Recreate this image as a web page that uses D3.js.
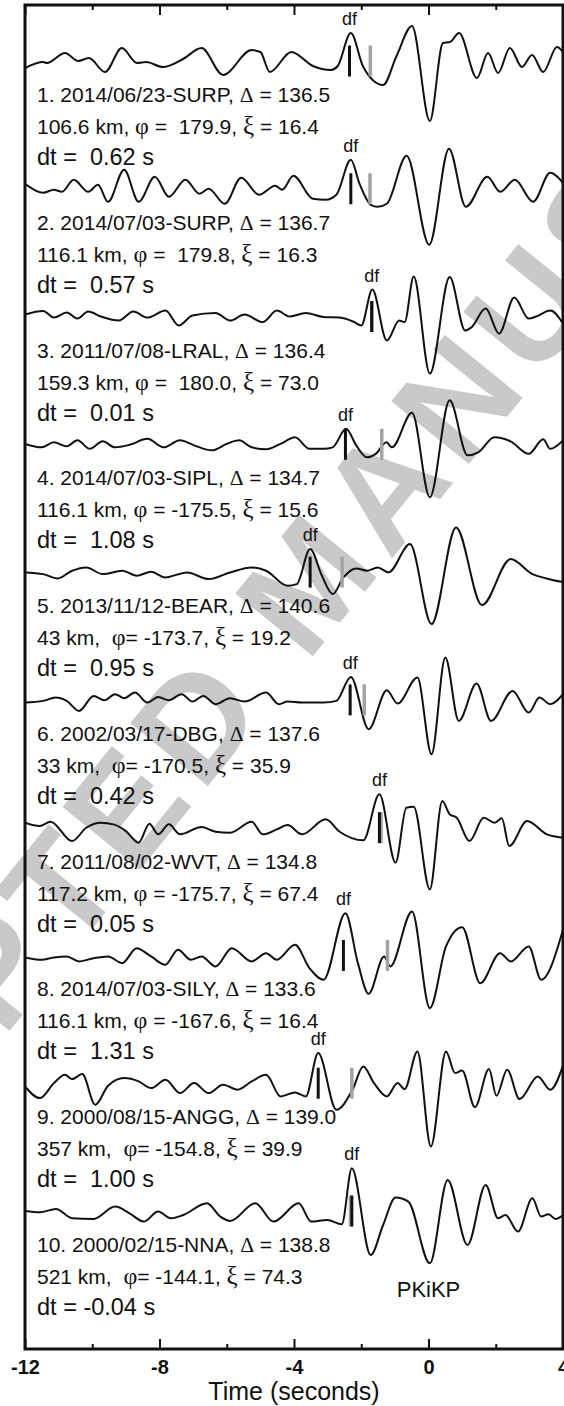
<!DOCTYPE html>
<html>
<head>
<meta charset="utf-8">
<script src="https://cdn.jsdelivr.net/npm/d3@7"></script>
<style>
  body { margin: 0; background: #fff; }
  svg { display: block; }
  text { white-space: pre; }
</style>
</head>
<body>
<svg id="chart" width="564" height="1406"></svg>
<script>
// ---- Event / station metadata (one entry per trace, top to bottom) ----
const traceIds = [1, 2, 3, 4, 5, 6, 7, 8, 9, 10];
const dates    = ["2014/06/23", "2014/07/03", "2011/07/08", "2014/07/03", "2013/11/12",
                  "2002/03/17", "2011/08/02", "2014/07/03", "2000/08/15", "2000/02/15"];
const stations = ["SURP", "SURP", "LRAL", "SIPL", "BEAR", "DBG", "WVT", "SILY", "ANGG", "NNA"];
const distances = [136.5, 136.7, 136.4, 134.7, 140.6, 137.6, 134.8, 133.6, 139.0, 138.8];
const depths    = [106.6, 116.1, 159.3, 116.1, 43, 33, 117.2, 116.1, 357, 521];
const phis      = [179.9, 179.8, 180.0, -175.5, -173.7, -170.5, -175.7, -167.6, -154.8, -144.1];
const xis       = [16.4, 16.3, 73.0, 15.6, 19.2, 35.9, 67.4, 16.4, 39.9, 74.3];
const dts       = [0.62, 0.57, 0.01, 1.08, 0.95, 0.42, 0.05, 1.31, 1.00, -0.04];
// picked PKIKP(df) onset time (s); the predicted arrival sits at dfTimes + dts
const dfTimes   = [-2.35, -2.31, -1.69, -2.47, -3.52, -2.33, -1.46, -2.53, -3.28, -2.28];

// ---- Axis ticks ----
const majorTicks = [-12, -8, -4, 0, 4];
const minorTicks = [-10, -6, -2, 2];

// ---- Waveforms: [time (s), amplitude] ----
const trace1 = [[-12.0,-7],[-11.46,-1],[-11.35,-2],[-10.81,8],[-10.42,0],[-10.1,3],[-9.62,-11],[-9.12,13],[-8.67,-2],[-8.4,-1],[-7.9,-6],[-7.3,2],[-6.75,13],[-6.11,-14],[-5.26,11],[-5.0,9],[-4.72,-11],[-4.08,9],[-3.44,-5],[-2.9,-9],[-2.7,-5],[-2.31,28],[-1.94,-6],[-1.35,-24],[-0.95,5],[-0.49,35],[0.04,-60],[0.43,18],[0.64,19],[0.91,28],[1.44,-17],[1.77,8],[2.07,-12],[2.42,13],[2.78,-6],[3.08,6],[3.41,-11],[3.82,14],[4.0,9]];
const trace2 = [[-12,5],[-11.46,-4],[-11.14,-1],[-10.9,-3],[-10.55,9],[-10.12,-3],[-9.83,4],[-9.53,-13],[-9.05,19],[-8.62,-13],[-8.14,12],[-7.72,-8],[-7.23,9],[-6.81,-5],[-6.54,0],[-6.06,-15],[-5.57,11],[-5.04,-6],[-4.56,3],[-4.35,-1],[-4.02,13],[-3.44,-10],[-3.06,-11],[-2.74,-6],[-2.31,29],[-2.05,5],[-1.72,-16],[-1.51,-18],[-1.24,-15],[-0.65,33],[0.02,-56],[0.61,40],[1.11,-18],[1.75,12],[2.13,-3],[2.57,9],[3.11,-13],[3.62,16],[4.0,6]];
const trace3 = [[-12,2],[-11.46,5.5],[-11.14,-1],[-10.76,4],[-10.44,-2],[-10.12,5],[-9.74,0],[-9.21,-4],[-8.78,5],[-8.36,-1],[-7.82,6],[-7.43,-9],[-7.02,1],[-6.33,3.5],[-5.9,-4],[-5.47,2],[-4.93,-5.5],[-4.51,6],[-4.13,0],[-3.65,3.5],[-3.12,-0.5],[-2.64,-1],[-2.21,-5.5],[-2.0,-9],[-1.67,27],[-1.24,-24],[-0.87,-4],[-0.71,-5.5],[-0.44,40],[0.04,-57],[0.63,39.5],[1.09,-14],[1.27,-11],[1.7,8],[2.1,-17],[2.55,19],[2.98,-2],[3.2,0],[3.62,6],[4.0,-7]];
const trace4 = [[-12,0.5],[-11.51,-3],[-11.14,2],[-10.76,-2],[-10.44,4],[-10.07,-4.5],[-9.69,3],[-9.32,-3],[-8.89,-0.5],[-8.36,5.5],[-7.88,-3],[-7.39,4],[-6.97,-1],[-6.44,-6],[-6.0,0.5],[-5.63,4],[-5.26,-3],[-4.83,-5],[-4.4,0.5],[-3.97,7],[-3.54,-4.5],[-3.12,-4.5],[-2.85,-3],[-2.45,15.5],[-2.15,-1],[-1.83,-13],[-1.57,-9.5],[-1.25,2],[-1.09,-3],[-0.49,31.5],[0.04,-53],[0.63,44],[1.16,-11],[1.48,-8],[1.96,7],[2.44,3],[2.98,-9.5],[3.41,5],[3.62,-4.5],[4.0,4]];
const trace5 = [[-12,-0.3],[-11.46,-2],[-11.03,-6.3],[-10.6,1.4],[-10.18,4.7],[-9.69,-2],[-9.11,1.4],[-8.68,-3.6],[-8.25,0.4],[-7.83,-5.3],[-7.18,-0.3],[-6.54,-7],[-5.9,-0.3],[-5.26,4.7],[-4.83,1.4],[-4.19,-13.6],[-3.92,-12],[-3.52,23],[-3.17,-3.6],[-2.85,-22],[-2.53,-5.3],[-2.15,3.7],[-1.83,1.4],[-1.51,4.7],[-1.19,-0.3],[-0.55,28],[0.09,-52],[0.82,44.7],[1.59,-33],[2.44,13],[3.09,-2],[3.51,-6.3],[4.0,-10]];
const trace6 = [[-12,-2.7],[-11.46,-1],[-11.09,2.3],[-10.76,-1],[-10.39,-11],[-9.96,4],[-9.64,-0.3],[-9.32,5.7],[-9.05,1.7],[-8.73,7.3],[-8.36,-2.7],[-8.04,3],[-7.72,-0.3],[-7.34,5.7],[-7.02,-1.7],[-6.7,4],[-6.33,-4.3],[-5.9,1.7],[-5.47,-1.7],[-4.83,7.3],[-4.45,-4.3],[-4.19,-1.7],[-3.76,-2.7],[-3.12,-2.7],[-2.74,-1],[-2.31,23],[-1.78,-29.3],[-1.24,9.7],[-0.92,-3.7],[-0.33,22.3],[0.09,-54.3],[0.5,42.3],[0.9,-21],[1.43,16.3],[1.86,-21],[2.5,9],[2.98,-12.7],[3.3,2.3],[3.62,-4.3],[4.0,5.7]];
const trace7 = [[-12,4.9],[-11.56,1.6],[-11.24,5.9],[-10.6,-13.4],[-10.18,-0.1],[-9.75,4.9],[-9.37,3.3],[-9.0,-3.4],[-8.62,-15],[-8.3,3.9],[-8.04,-6.7],[-7.72,3.3],[-7.39,-6.7],[-6.75,0.6],[-6.33,-4.1],[-5.9,-5],[-5.26,5.9],[-4.93,-6.7],[-4.51,-1.7],[-4.19,2.6],[-3.76,-6.7],[-3.06,8.3],[-2.64,-4.1],[-1.94,-12.7],[-1.46,33.3],[-0.98,-35],[-0.66,19.9],[-0.44,20.9],[0.04,-61.7],[0.41,26.6],[0.63,13.3],[0.84,9.9],[1.22,-13.4],[1.64,9.9],[1.97,4.9],[2.18,9.3],[2.4,-18.4],[2.93,6.6],[3.52,-6.7],[4.0,-10]];
const trace8 = [[-12,-2],[-11.51,-4.3],[-11.14,-2],[-10.76,-1],[-10.39,-6],[-9.96,-2.7],[-9.53,-1],[-9.11,-7.7],[-8.68,7.3],[-8.25,-1],[-7.83,-9.3],[-7.45,5.7],[-7.07,-4.3],[-6.75,-1],[-6.33,-11],[-5.85,7.3],[-5.26,-6],[-4.83,2.3],[-4.51,-4.3],[-3.97,10.7],[-3.54,-12.7],[-3.12,-24.3],[-2.47,42.3],[-2.1,-7.7],[-1.78,-38.3],[-1.32,-1],[-1.14,-11],[-0.49,44],[0.04,-52.7],[0.52,9],[1.0,28.3],[1.54,-27.7],[2.13,2.3],[2.45,-6],[2.98,9],[3.35,-24.3],[4.0,25.7]];
const trace9 = [[-12,-3.2],[-11.56,-14.9],[-11.14,0.1],[-10.81,8.5],[-10.6,4.1],[-10.3,9.1],[-9.91,-21.5],[-9.53,-2.5],[-9.05,5.1],[-8.62,1.8],[-8.25,-4.9],[-7.82,3.5],[-7.39,-9.9],[-6.97,0.1],[-6.54,-9.9],[-6.11,-1.5],[-5.68,-6.5],[-5.26,1.8],[-4.83,8.5],[-4.4,-13.2],[-3.97,-9.2],[-3.65,-13.2],[-3.28,30.1],[-2.74,-26.5],[-2.26,-6.5],[-1.94,16.8],[-1.62,0.1],[-1.24,-13.2],[-0.92,0.1],[-0.71,-5.9],[-0.33,31.8],[0.07,-63.2],[0.52,31.8],[0.79,10.1],[1.0,12.8],[1.38,-23.9],[1.8,14.1],[2.02,-12.5],[2.34,13.5],[2.71,-15.9],[3.25,6.8],[3.62,-6.5],[4.0,17.5]];
const trace10 = [[-12,0.1],[-11.56,-1.3],[-11.08,2.1],[-10.6,-7.3],[-9.96,-8],[-9.32,4.4],[-8.89,-2.3],[-8.47,-10.6],[-8.04,-0.6],[-7.66,-7.3],[-7.29,-4],[-6.59,7.7],[-6.19,-5.6],[-5.9,-9.9],[-5.15,7.7],[-4.61,-10.6],[-3.86,7.7],[-3.49,-10.6],[-3.01,-8.9],[-2.58,-13.3],[-2.28,42.7],[-1.72,-44],[-1.35,-14],[-0.98,13.4],[-0.6,9.4],[0.04,-52.3],[0.57,31.1],[1.16,-34],[1.7,26.1],[2.07,-7.3],[2.29,-4],[2.66,-20.6],[3.09,12.7],[3.35,-5.6],[3.57,-3.3],[3.78,-8],[4.0,-4]];
const traces = [trace1, trace2, trace3, trace4, trace5, trace6, trace7, trace8, trace9, trace10];

// ---- Layout ----
const W = 564, H = 1406;
const plot = { left: 25, right: 563, top: 5, bottom: 1349 };

const svg = d3.select("#chart");

const x = d3.scaleLinear().domain([-12, 4]).range([plot.left, plot.right]);
// vertical slot (trace baseline) for each record
const row = d3.scaleLinear().domain([0, traces.length - 1]).range([61, 1211]);
// amplitude -> vertical offset from the trace baseline
const amp = d3.scaleLinear().domain([-60, 60]).range([60, -60]);

const SANS = "'Liberation Sans', Arial, Helvetica, sans-serif";
const SERIF = "'Liberation Serif', 'Times New Roman', serif";

// ---- Watermark ----
svg.append("text")
  .attr("transform", "translate(312,578) rotate(-51)")
  .attr("text-anchor", "middle")
  .attr("dominant-baseline", "central")
  .attr("font-family", SANS)
  .attr("font-weight", "bold")
  .attr("font-size", 145)
  .attr("letter-spacing", 11)
  .attr("fill", "#c9c9c9")
  .text("ACCEPTED MANUSCRIPT");

// ---- Waveforms ----
svg.append("clipPath").attr("id", "plotClip")
  .append("rect")
  .attr("x", plot.left).attr("y", plot.top)
  .attr("width", plot.right - plot.left).attr("height", plot.bottom - plot.top);

const line = d3.line()
  .x(d => x(d[0]))
  .y(d => amp(d[1]))
  .curve(d3.curveMonotoneX);

const rows = svg.append("g").attr("clip-path", "url(#plotClip)")
  .selectAll("g.row")
  .data(traces)
  .join("g")
  .attr("class", "row")
  .attr("transform", (d, i) => `translate(0,${row(i)})`);

rows.append("path")
  .attr("d", d => line(d))
  .attr("fill", "none")
  .attr("stroke", "#111")
  .attr("stroke-width", 2)
  .attr("stroke-linejoin", "round");

// predicted (grey) and picked df (black) arrival markers
const markHalf = 15.5;
rows.append("line")
  .attr("x1", (d, i) => x(dfTimes[i] + dts[i]))
  .attr("x2", (d, i) => x(dfTimes[i] + dts[i]))
  .attr("y1", -markHalf).attr("y2", markHalf)
  .attr("stroke", "#a3a3a3")
  .attr("stroke-width", 3.5);

rows.append("line")
  .attr("x1", (d, i) => x(dfTimes[i]))
  .attr("x2", (d, i) => x(dfTimes[i]))
  .attr("y1", -markHalf).attr("y2", markHalf)
  .attr("stroke", "#111")
  .attr("stroke-width", 3);

// "df" label just above the df peak
function dfPeak(tr, t0) {
  const near = tr.filter(p => Math.abs(p[0] - t0) < 0.3);
  return d3.max(near, p => p[1]);
}
rows.append("text")
  .attr("x", (d, i) => x(dfTimes[i]))
  .attr("y", (d, i) => amp(dfPeak(d, dfTimes[i])) - 8)
  .attr("text-anchor", "middle")
  .attr("font-family", SANS)
  .attr("font-size", 18)
  .attr("fill", "#111")
  .text("df");

// ---- Record annotations ----
const fmtDepth = v => Number.isInteger(v) ? String(v) : v.toFixed(1);
const fmtSigned = (v, digits) => (v >= 0 ? " " : "") + v.toFixed(digits);

const ann = svg.append("g")
  .selectAll("g.ann")
  .data(traceIds)
  .join("g")
  .attr("class", "ann")
  .attr("transform", (d, i) => `translate(37,${row(i)})`)
  .attr("font-family", SANS)
  .attr("fill", "#111");

const l1 = ann.append("text").attr("y", 41).attr("font-size", 21);
l1.append("tspan").text((d, i) => `${d}. ${dates[i]}-${stations[i]}, `);
l1.append("tspan").attr("font-family", SERIF).attr("font-size", 21.5).text("\u0394");
l1.append("tspan").text((d, i) => ` = ${distances[i].toFixed(1)}`);

const l2 = ann.append("text").attr("y", 73).attr("font-size", 21);
l2.append("tspan").text((d, i) => `${fmtDepth(depths[i])} km, ` + (Number.isInteger(depths[i]) ? " " : ""));
l2.append("tspan").attr("font-family", SERIF).attr("font-size", 24).text("\u03C6");
l2.append("tspan").text((d, i) => (Number.isInteger(depths[i]) ? "= " : " = ") + fmtSigned(phis[i], 1) + ", ");
l2.append("tspan").attr("font-family", SERIF).attr("font-size", 25).text("\u03BE");
l2.append("tspan").text((d, i) => ` = ${xis[i].toFixed(1)}`);

ann.append("text").attr("y", 104).attr("font-size", 23.5)
  .text((d, i) => `dt = ${fmtSigned(dts[i], 2)} s`);

// phase name under the last record
svg.append("text")
  .attr("x", x(0)).attr("y", row(traces.length - 1) + 86)
  .attr("text-anchor", "middle")
  .attr("font-family", SANS).attr("font-size", 22).attr("fill", "#111")
  .text("PKiKP");

// ---- Frame and axes ----
svg.append("rect")
  .attr("x", plot.left).attr("y", plot.top)
  .attr("width", plot.right - plot.left).attr("height", plot.bottom - plot.top)
  .attr("fill", "none").attr("stroke", "#111").attr("stroke-width", 3);

function styleAxis(g) {
  g.select(".domain").remove();
  g.selectAll(".tick line").attr("stroke", "#111").attr("stroke-width", 2);
}

svg.append("g").attr("transform", `translate(0,${plot.bottom})`)
  .call(d3.axisBottom(x).tickValues(majorTicks).tickSizeInner(-10).tickSizeOuter(0)
    .tickPadding(11).tickFormat(d => String(d)))
  .call(styleAxis)
  .call(g => g.selectAll(".tick text")
    .attr("font-family", SANS).attr("font-size", 20).attr("font-weight", "bold").attr("fill", "#111"));

svg.append("g").attr("transform", `translate(0,${plot.bottom})`)
  .call(d3.axisBottom(x).tickValues(minorTicks).tickSizeInner(-5).tickSizeOuter(0).tickFormat(""))
  .call(styleAxis);

svg.append("g").attr("transform", `translate(0,${plot.top})`)
  .call(d3.axisTop(x).tickValues(majorTicks).tickSizeInner(-10).tickSizeOuter(0).tickFormat(""))
  .call(styleAxis);

svg.append("g").attr("transform", `translate(0,${plot.top})`)
  .call(d3.axisTop(x).tickValues(minorTicks).tickSizeInner(-5).tickSizeOuter(0).tickFormat(""))
  .call(styleAxis);

svg.append("text")
  .attr("x", x(-4)).attr("y", 1400)
  .attr("text-anchor", "middle")
  .attr("font-family", SANS).attr("font-size", 25).attr("fill", "#111")
  .text("Time (seconds)");
</script>
</body>
</html>
